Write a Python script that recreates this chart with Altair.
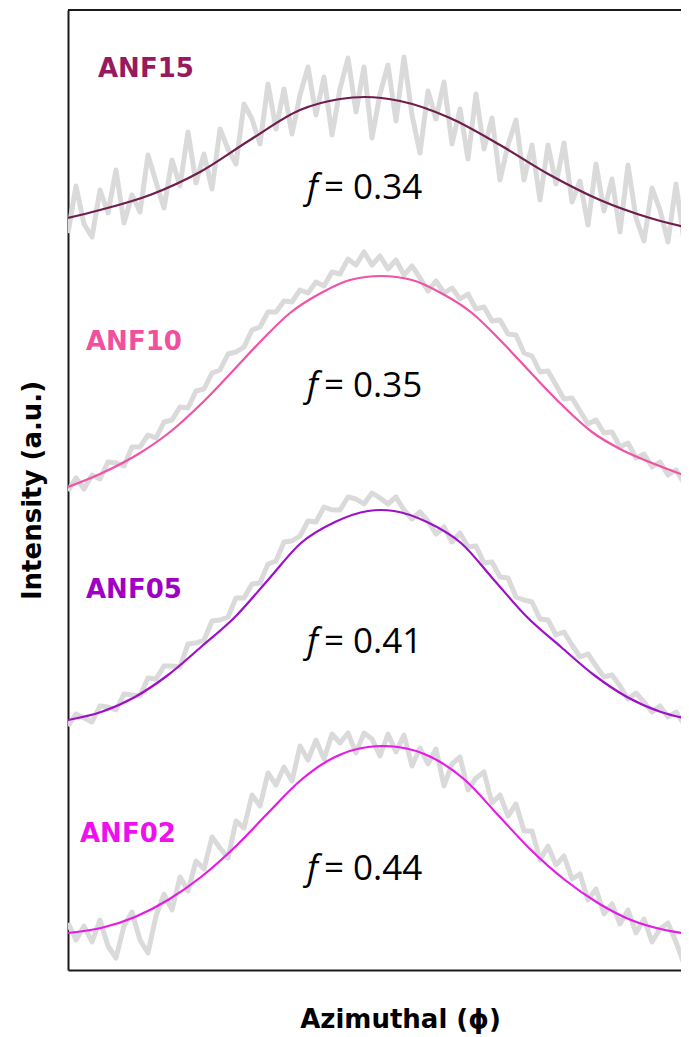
import altair as alt
import pandas as pd

# ---------------- data ----------------
SAMPLES = ["ANF15", "ANF10", "ANF05", "ANF02"]
FIT_COLORS = ["#6E1D4E", "#F052A5", "#9E10C8", "#E61AE6"]
LABEL_COLORS = ["#971A60", "#F0509E", "#A000C4", "#EE10EE"]
F_VALUES = ["0.34", "0.35", "0.41", "0.44"]

STEP = 8  # azimuthal sampling of the raw (grey) profiles

RAW_ANF15 = [737, 784, 746, 733, 780, 757, 800, 747, 775, 758,
             815, 788, 762, 810, 784, 838, 787, 816, 781, 841,
             821, 806, 866, 851, 826, 886, 841, 881, 836, 875,
             903, 855, 893, 835, 881, 912, 858, 903, 832, 876,
             905, 849, 913, 855, 817, 879, 851, 888, 826, 861,
             811, 876, 821, 852, 790, 825, 850, 790, 825, 770,
             825, 786, 827, 768, 789, 745, 806, 759, 791, 738,
             805, 752, 729, 782, 760, 728, 786, 729, 757]
RAW_ANF10 = [479, 492, 481, 495, 491, 508, 507, 504, 523, 523,
             535, 532, 548, 550, 563, 562, 579, 581, 597, 600,
             616, 618, 623, 640, 643, 658, 658, 669, 668, 680,
             677, 688, 684, 698, 696, 711, 705, 718, 705, 714,
             701, 710, 695, 704, 692, 679, 689, 677, 682, 671,
             676, 661, 663, 649, 650, 636, 635, 617, 614, 598,
             599, 585, 571, 572, 559, 546, 550, 537, 538, 523,
             527, 512, 516, 503, 508, 495, 500, 487, 493]
RAW_ANF05 = [244, 256, 252, 248, 264, 263, 260, 276, 275, 274,
             292, 291, 304, 304, 303, 326, 327, 330, 349, 350,
             353, 372, 372, 386, 387, 406, 409, 428, 429, 434,
             449, 448, 463, 460, 460, 473, 471, 466, 477, 472,
             466, 473, 460, 451, 458, 449, 436, 443, 428, 437,
             423, 424, 407, 408, 393, 392, 373, 370, 368, 351,
             350, 335, 338, 325, 313, 316, 304, 293, 295, 284,
             271, 277, 268, 258, 264, 253, 258, 246, 250]
RAW_ANF02 = [47, 30, 44, 28, 50, 24, 12, 44, 58, 30,
             17, 54, 76, 60, 93, 79, 109, 101, 133, 122,
             112, 149, 142, 175, 164, 197, 185, 203, 189, 224,
             210, 230, 211, 236, 227, 237, 217, 237, 231, 214,
             236, 218, 235, 204, 222, 206, 221, 184, 206, 213,
             180, 192, 198, 167, 175, 154, 166, 139, 139, 110,
             124, 105, 114, 91, 96, 70, 81, 56, 66, 46,
             60, 37, 51, 28, 41, 47, 28, 6, 30]

FIT_PHI_ANF15 = [0, 32, 82, 132, 182, 232, 272, 297, 332, 382, 432, 482, 532, 582, 621]
FIT_ANF15 = [752, 760, 775, 798, 830, 860, 871, 873, 869, 852, 825, 795, 770, 752, 742]
FIT_PHI_ANF10 = [0, 32, 72, 102, 132, 162, 193, 222, 253, 282, 313, 344, 373, 404, 433,
                 464, 494, 524, 554, 584, 621]
FIT_ANF10 = [483, 496, 517, 538, 565, 596, 629, 657, 677, 690, 694, 690, 677, 657, 629,
             596, 565, 538, 520, 507, 493]
FIT_PHI_ANF05 = [0, 33, 67, 100, 133, 167, 200, 233, 267, 300, 313, 326, 359, 393, 426,
                 459, 493, 526, 559, 593, 626]
FIT_ANF05 = [250, 258, 273, 295, 323, 353, 390, 427, 448, 459, 460, 459, 448, 427, 390,
             353, 323, 295, 273, 258, 250]
FIT_PHI_ANF02 = [0, 33, 67, 100, 133, 167, 200, 233, 267, 300, 315, 330, 363, 397, 430,
                 463, 497, 530, 563, 597, 630]
FIT_ANF02 = [37, 42, 53, 70, 93, 123, 157, 190, 213, 223, 224, 223, 213, 190, 155,
             120, 90, 67, 50, 40, 35]

# annotation anchors (phi, intensity)
LABEL_PHI = [30, 18, 18, 12]
LABEL_INT = [893, 620, 372, 128]
F_INT = [771, 573, 317, 90]
F_PHI = 250

# ---------------- tables ----------------
raw_rows = []
for s, vals in zip(SAMPLES, [RAW_ANF15, RAW_ANF10, RAW_ANF05, RAW_ANF02]):
    for i, v in enumerate(vals):
        raw_rows.append({"sample": s, "phi": i * STEP, "intensity": v})
raw_df = pd.DataFrame(raw_rows)

fit_rows = []
for s, ph, vals in zip(SAMPLES,
                       [FIT_PHI_ANF15, FIT_PHI_ANF10, FIT_PHI_ANF05, FIT_PHI_ANF02],
                       [FIT_ANF15, FIT_ANF10, FIT_ANF05, FIT_ANF02]):
    for p, v in zip(ph, vals):
        fit_rows.append({"sample": s, "phi": p, "intensity": v})
fit_df = pd.DataFrame(fit_rows)

label_df = pd.DataFrame({"sample": SAMPLES, "phi": LABEL_PHI,
                         "intensity": LABEL_INT, "color": LABEL_COLORS})
f_df = pd.DataFrame({"phi": [F_PHI] * 4, "intensity": F_INT,
                     "f": ["f"] * 4, "val": ["= " + v for v in F_VALUES]})

# ---------------- encodings ----------------
FRAME = "#1a1a1a"
x_axis = alt.Axis(title="Azimuthal (ϕ)", labels=False, ticks=False, grid=False,
                  domain=True, domainColor=FRAME, domainWidth=2,
                  titleFont="DejaVu Sans", titleFontWeight="bold", titleFontSize=26,
                  titleColor="black", titleX=332, titleY=57,
                  titleAlign="center", titleBaseline="alphabetic")
y_axis = alt.Axis(title="Intensity (a.u.)", labels=False, ticks=False, grid=False,
                  domain=True, domainColor=FRAME, domainWidth=2,
                  titleFont="DejaVu Sans", titleFontWeight="bold", titleFontSize=26,
                  titleColor="black", titleAngle=270, titleX=-36, titleY=480,
                  titleAlign="center", titleBaseline="middle")

X = alt.X("phi:Q", scale=alt.Scale(domain=[0, 613], nice=False, zero=False), axis=x_axis)
Y = alt.Y("intensity:Q", scale=alt.Scale(domain=[0, 960], nice=False, zero=False), axis=y_axis)

raw = alt.Chart(raw_df).mark_line(color="#DADADA", strokeWidth=5, strokeJoin="round",
                                  clip=True).encode(x=X, y=Y, detail="sample:N")

fit = alt.Chart(fit_df).mark_line(strokeWidth=2.2, interpolate="monotone", clip=True).encode(
    x=X, y=Y,
    color=alt.Color("sample:N", scale=alt.Scale(domain=SAMPLES, range=FIT_COLORS), legend=None),
)

labels = alt.Chart(label_df).mark_text(align="left", baseline="alphabetic", font="DejaVu Sans",
                                       fontWeight="bold", fontSize=26).encode(
    x=X, y=Y, text="sample:N", color=alt.Color("color:N", scale=None))

f_italic = alt.Chart(f_df).mark_text(align="right", baseline="alphabetic", font="Open Sans",
                                     fontStyle="italic", fontSize=35, color="black").encode(
    x=X, y=Y, text="f:N")
f_val = alt.Chart(f_df).mark_text(align="left", baseline="alphabetic", font="Open Sans",
                                  fontSize=35, color="black", dx=6).encode(
    x=X, y=Y, text="val:N")

top_rule = alt.Chart(label_df).mark_rule(color=FRAME, strokeWidth=2).encode(
    x=alt.value(0), x2=alt.value(613), y=alt.value(0))

chart = alt.layer(raw, fit, labels, f_italic, f_val, top_rule).properties(
    width=613, height=960,
    autosize=alt.AutoSizeParams(type="none"),
    padding={"left": 60, "top": 2, "right": 0, "bottom": 66},
    background="white",
).configure_view(strokeWidth=0)

chart.save("out.html", embed_options={"renderer": "svg", "actions": False})
